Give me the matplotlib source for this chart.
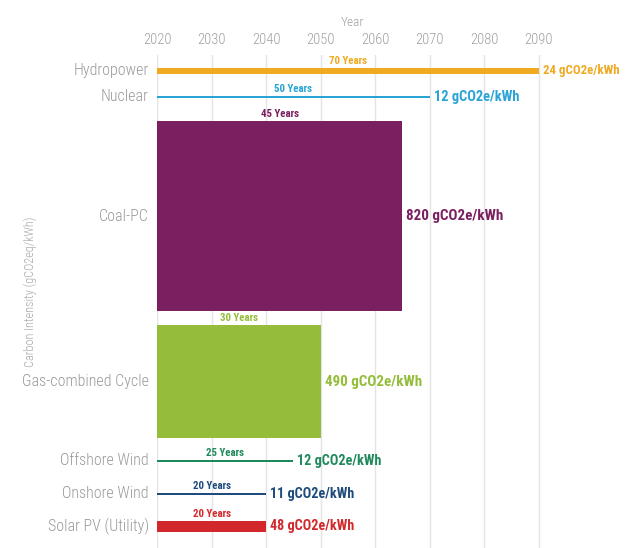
import matplotlib.pyplot as plt
import matplotlib.transforms as mtransforms

# data
sources = ['Hydropower', 'Nuclear', 'Coal-PC', 'Gas-combined Cycle',
           'Offshore Wind', 'Onshore Wind', 'Solar PV (Utility)']
lifetimes = [70, 50, 45, 30, 25, 20, 20]           # years
intensity = [24, 12, 820, 490, 12, 11, 48]         # gCO2e/kWh
colors = ['#EFAA22', '#2AA3D5', '#7A1F5F', '#95BD3B', '#1E8A5B', '#1F4C7C', '#D3282B']

start_year = 2020
years = list(range(2020, 2100, 10))

# vertical spacing before each row (in intensity units, layout only)
gaps = [57, 94, 98, 60, 91, 131, 111]
value_sizes = [9.3, 10.4, 10.8, 10.8, 10.2, 10.2, 10.2]

plt.rcParams['font.family'] = ['Roboto Condensed', 'DejaVu Sans']

fig = plt.figure(figsize=(6.35, 5.48), dpi=100)
ax = fig.add_axes([157 / 635, 0.0, 390 / 635, 1 - 55 / 548])

centers = []
pos = 0
for g, h in zip(gaps, intensity):
    pos += g
    centers.append(pos + h / 2)
    pos += h

ax.barh(centers, lifetimes, left=start_year, height=intensity, color=colors, zorder=2)

off = lambda dx, dy: mtransforms.offset_copy(ax.transData, fig=fig, x=dx, y=dy, units='dots')

for name, c, n, h, col, vs in zip(sources, centers, lifetimes, intensity, colors, value_sizes):
    ax.text(start_year, c, name, transform=off(-8, 0), ha='right', va='center',
            fontsize=11.5, fontweight='light', color='#9a9a9a', clip_on=False)
    ax.text(start_year + n / 2, c - h / 2, f'{n} Years', transform=off(0, 2),
            ha='center', va='bottom', fontsize=7.8, fontweight='bold', color=col)
    ax.text(start_year + n, c, f'{h} gCO2e/kWh', transform=off(4, 0),
            ha='left', va='center', fontsize=vs, fontweight='bold', color=col,
            clip_on=False)

ax.set_xlim(2020, 2091.5)
ax.set_ylim(2128, 0)
ax.set_xticks(years)
ax.xaxis.tick_top()
ax.xaxis.set_label_position('top')
ax.tick_params(axis='x', length=0, pad=6, labelsize=10.5, labelcolor='#a0a0a0')
for lb in ax.get_xticklabels():
    lb.set_fontweight('light')
ax.set_xlabel('Year', fontsize=9.5, color='#a0a0a0', labelpad=5, fontweight='light')
ax.set_yticks([])
ax.grid(axis='x', color='#e4e4e4', lw=1)
ax.set_axisbelow(True)
for s in ax.spines.values():
    s.set_visible(False)

fig.text(30 / 635, 1 - 292 / 548, 'Carbon Intensity (gCO2eq/kWh)', rotation=90,
         ha='center', va='center', fontsize=8.8, color='#a8a8a8', fontweight='light')

fig.savefig('out.png', dpi=100)
